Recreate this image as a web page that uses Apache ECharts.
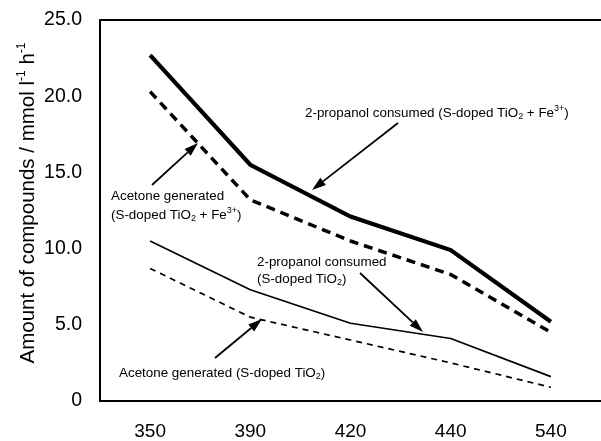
<!DOCTYPE html>
<html>
<head>
<meta charset="utf-8">
<script src="https://cdn.jsdelivr.net/npm/echarts@6/dist/echarts.min.js"></script>
<style>
  html, body { margin: 0; padding: 0; background: #fff; }
  #chart { width: 601px; height: 441px; }
</style>
</head>
<body>
<div id="chart"></div>
<script>
// Irradiation wavelength categories (nm)
const wavelengths = ['350', '390', '420', '440', '540'];

// Rates in mmol l-1 h-1
const propanolConsumedFe = [22.7, 15.5, 12.1, 9.9, 5.2];
const acetoneGeneratedFe = [20.3, 13.2, 10.5, 8.3, 4.5];
const propanolConsumed   = [10.5, 7.3, 5.1, 4.1, 1.6];
const acetoneGenerated   = [8.7, 5.5, 4.0, 2.5, 0.9];

// Y-axis tick settings
const yMin = 0, yMax = 25, yStep = 5;

const FONT = '"Liberation Sans", Arial, Helvetica, sans-serif';

const richBase = {
  n:   { fontSize: 13.4, fontFamily: FONT, color: '#000', lineHeight: 17 },
  sub: { fontSize: 9,  fontFamily: FONT, color: '#000', lineHeight: 17, verticalAlign: 'bottom' },
  sup: { fontSize: 9,  fontFamily: FONT, color: '#000', lineHeight: 17, verticalAlign: 'top' }
};

function label(text, x, y) {
  return {
    type: 'text', x: x, y: y, z: 10,
    style: {
      text: text, fontSize: 13.4, fontFamily: FONT, fill: '#000',
      rich: richBase, align: 'left', verticalAlign: 'middle'
    }
  };
}

// Straight pointer with a filled triangular head at (x2, y2)
function arrow(x1, y1, x2, y2) {
  const len = 14, half = 4.5;
  const dx = x2 - x1, dy = y2 - y1;
  const d = Math.sqrt(dx * dx + dy * dy);
  const ux = dx / d, uy = dy / d;
  const bx = x2 - ux * len, by = y2 - uy * len;
  return [
    {
      type: 'line', z: 10,
      shape: { x1: x1, y1: y1, x2: bx, y2: by },
      style: { stroke: '#000', lineWidth: 1.8 }
    },
    {
      type: 'polygon', z: 10,
      shape: { points: [[x2, y2], [bx - uy * half, by + ux * half], [bx + uy * half, by - ux * half]] },
      style: { fill: '#000' }
    }
  ];
}

const chart = echarts.init(document.getElementById('chart'), null, { renderer: 'canvas' });

const lineBase = { type: 'line', symbol: 'none', silent: true, animation: false };

chart.setOption({
  backgroundColor: '#fff',
  animation: false,
  grid: { left: 100, right: 0, top: 20, bottom: 39 },
  xAxis: [
    {
      type: 'category', data: wavelengths, boundaryGap: true,
      axisLine: { lineStyle: { color: '#000', width: 2 } },
      axisTick: { show: false },
      axisLabel: { color: '#000', fontSize: 19, fontFamily: FONT, margin: 21 },
      splitLine: { show: false }
    },
    {
      type: 'category', data: wavelengths, position: 'top',
      axisLine: { lineStyle: { color: '#000', width: 2 } },
      axisTick: { show: false }, axisLabel: { show: false }, splitLine: { show: false }
    }
  ],
  yAxis: {
    type: 'value', min: yMin, max: yMax, interval: yStep,
    axisLine: { show: true, lineStyle: { color: '#000', width: 2 } },
    axisTick: { show: false },
    splitLine: { show: false },
    axisLabel: {
      color: '#000', fontSize: 19.5, fontFamily: FONT, margin: 18,
      formatter: v => (v === 0 ? '0' : v.toFixed(1))
    }
  },
  series: [
    Object.assign({}, lineBase, {
      name: '2-propanol consumed (S-doped TiO2 + Fe3+)', data: propanolConsumedFe,
      lineStyle: { color: '#000', width: 4.2, type: 'solid', join: 'miter' }
    }),
    Object.assign({}, lineBase, {
      name: 'Acetone generated (S-doped TiO2 + Fe3+)', data: acetoneGeneratedFe,
      lineStyle: { color: '#000', width: 3.5, type: [9, 6] }
    }),
    Object.assign({}, lineBase, {
      name: '2-propanol consumed (S-doped TiO2)', data: propanolConsumed,
      lineStyle: { color: '#000', width: 1.7, type: 'solid' }
    }),
    Object.assign({}, lineBase, {
      name: 'Acetone generated (S-doped TiO2)', data: acetoneGenerated,
      lineStyle: { color: '#000', width: 1.7, type: [6, 5] }
    })
  ],
  graphic: [
    // Y-axis title
    {
      type: 'text', x: 28, y: 203, rotation: Math.PI / 2, z: 10,
      style: {
        text: '{t|Amount of compounds / mmol l}{s|-1}{t| h}{s|-1}',
        align: 'center', verticalAlign: 'middle',
        rich: {
          t: { fontSize: 20.5, fontFamily: FONT, color: '#000', lineHeight: 24 },
          s: { fontSize: 12, fontFamily: FONT, color: '#000', lineHeight: 24, verticalAlign: 'top' }
        }
      }
    },
    label('{n|2-propanol consumed (S-doped TiO}{sub|2}{n| + Fe}{sup|3+}{n|)}', 305, 113),
    label('{n|Acetone generated}', 111, 196),
    label('{n|(S-doped TiO}{sub|2}{n| + Fe}{sup|3+}{n|)}', 111, 215),
    label('{n|2-propanol consumed}', 257, 262),
    label('{n|(S-doped TiO}{sub|2}{n|)}', 257, 279),
    label('{n|Acetone generated (S-doped TiO}{sub|2}{n|)}', 119, 373)
  ].concat(
    arrow(398, 123, 312, 190),
    arrow(152, 185, 198, 143),
    arrow(360, 273, 423, 332),
    arrow(215, 358, 262, 319)
  )
});
</script>
</body>
</html>
